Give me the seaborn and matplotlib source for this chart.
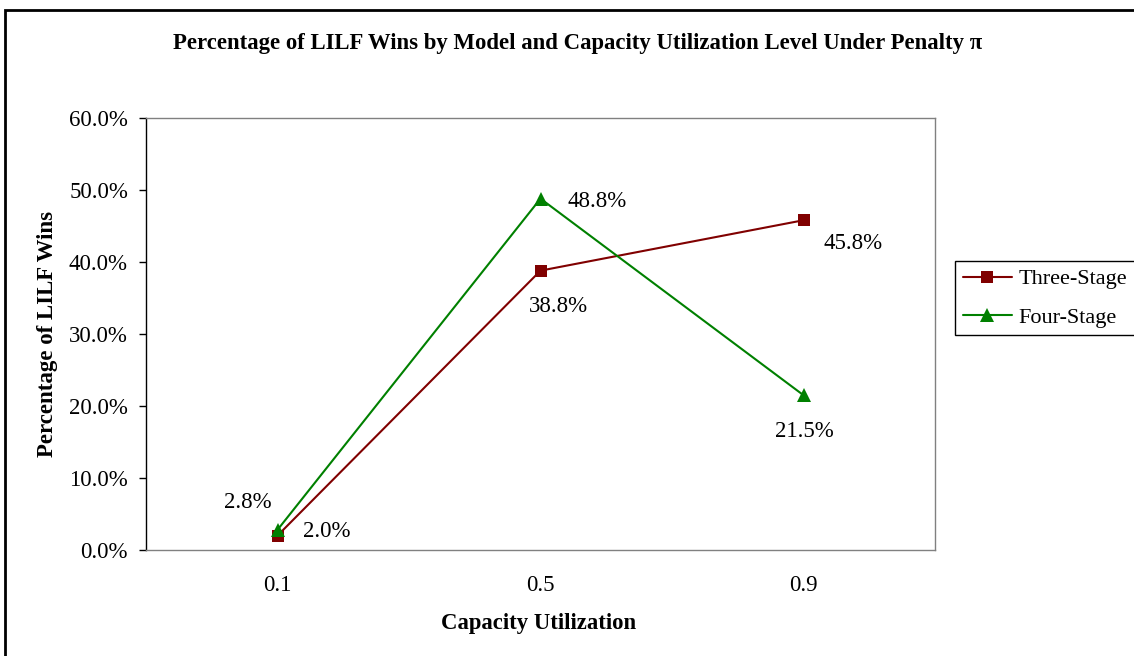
import matplotlib
matplotlib.use("Agg")
import matplotlib.pyplot as plt
import matplotlib.patches as mpatches
import seaborn as sns
import pandas as pd

categories = ["0.1", "0.5", "0.9"]
three_stage = [2.0, 38.8, 45.8]
four_stage = [2.8, 48.8, 21.5]
series_names = ["Three-Stage", "Four-Stage"]
y_ticks = [0, 10, 20, 30, 40, 50, 60]

rows = []
for name, vals in zip(series_names, [three_stage, four_stage]):
    for c, v in zip(categories, vals):
        rows.append({"cap": c, "val": v, "series": name})
df = pd.DataFrame(rows)

sns.set_theme(style="white")
plt.rcParams["font.family"] = ["Liberation Serif", "DejaVu Serif"]
plt.rcParams["text.color"] = "black"
plt.rcParams["axes.labelcolor"] = "black"
plt.rcParams["xtick.color"] = "black"
plt.rcParams["ytick.color"] = "black"

L, R, T, B = 146, 935, 118, 550
fig = plt.figure(figsize=(11.34, 6.56), dpi=100)
ax = fig.add_axes([L/1134, 1-B/656, (R-L)/1134, (B-T)/656])

colors = {"Three-Stage": "#800000", "Four-Stage": "#008000"}
markers = {"Three-Stage": "s", "Four-Stage": "^"}
sizes = {"Three-Stage": 8, "Four-Stage": 9.5}
for name, vals in zip(series_names, [three_stage, four_stage]):
    sub = df[df["series"] == name]
    sns.lineplot(data=sub, x="cap", y="val", color=colors[name], marker=markers[name],
                 linewidth=1.5, markersize=sizes[name], markeredgewidth=0, ax=ax,
                 legend=False, sort=False)

ax.set_xlim(-0.5, 2.5)
ax.set_ylim(0, 60)
ax.set_yticks(y_ticks)
ax.set_yticklabels([f"{t:.1f}%" for t in y_ticks], fontsize=16.5)
ax.set_xticks(range(len(categories)))
ax.set_xticklabels(categories, fontsize=16.5)
ax.tick_params(axis="y", direction="out", length=5, width=1, color="black", pad=8, left=True)
ax.tick_params(axis="x", length=0, pad=18)
for s in ax.spines.values():
    s.set_color("#808080")
    s.set_linewidth(1)
ax.spines["left"].set_color("black")

ax.set_xlabel("Capacity Utilization", fontsize=16.4, fontweight="bold", va="center")
ax.xaxis.set_label_coords((539-L)/(R-L), -(624-B)/(B-T))
ax.set_ylabel("Percentage of LILF Wins", fontsize=16.5, fontweight="bold", va="center")
ax.yaxis.set_label_coords((48-L)/(R-L), (B-334)/(B-T))

# data labels (pixel offsets from the marker)
offsets = {
    "Three-Stage": [(49, 4), (18, -36), (50, -23)],
    "Four-Stage": [(-30, 27), (57, -3), (1, -36)],
}
for name, vals in zip(series_names, [three_stage, four_stage]):
    for i, v in enumerate(vals):
        dx, dy = offsets[name][i]
        ax.annotate(f"{v:.1f}%", (i, v), xytext=(dx*0.72, dy*0.72), textcoords="offset points",
                    ha="center", va="center", fontsize=16.5, color="black")

fig.text(578/1134, 1-43/656,
         "Percentage of LILF Wins by Model and Capacity Utilization Level Under Penalty \u03c0",
         ha="center", va="center", fontsize=16.4, fontweight="bold")

handles = [plt.Line2D([], [], color=colors[n], marker=markers[n], markersize=sizes[n],
                      markeredgewidth=0, linewidth=1.5) for n in series_names]
leg = fig.legend(handles, series_names, loc="upper left",
                 bbox_to_anchor=(955/1134, 1-261/656), fontsize=16,
                 frameon=True, fancybox=False, edgecolor="black", framealpha=1,
                 borderaxespad=0, handlelength=2.2, handletextpad=0.3,
                 borderpad=0.35, labelspacing=0.8)
leg.get_frame().set_linewidth(1)

border = mpatches.Rectangle((5/1134, -0.2), 1.2, 1.2 - 10/656, transform=fig.transFigure,
                            fill=False, edgecolor="black", linewidth=2, clip_on=False)
fig.patches.append(border)

fig.savefig("out.png", dpi=100)
